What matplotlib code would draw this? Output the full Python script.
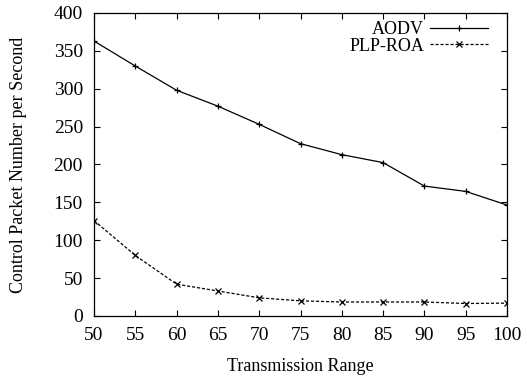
import matplotlib
matplotlib.use("Agg")
import matplotlib.pyplot as plt

plt.rcParams['font.family'] = ['Liberation Serif', 'DejaVu Serif']

ranges = [50, 55, 60, 65, 70, 75, 80, 85, 90, 95, 100]
aodv = [363, 330, 298, 277, 253, 227.5, 213, 202.5, 171.5, 164.5, 146.5]
plp_roa = [126, 80, 42, 33, 24, 20, 18.5, 18.5, 18.5, 16.5, 17]
xticks = [50, 55, 60, 65, 70, 75, 80, 85, 90, 95, 100]
yticks = [0, 50, 100, 150, 200, 250, 300, 350, 400]

fig = plt.figure(figsize=(5.27, 3.78), dpi=100)
ax = fig.add_axes([94/527, 1-316/378, (507-94)/527, (316-13)/378])

ax.plot(ranges, aodv, color='black', linewidth=0.9, marker='+', markersize=5,
        markeredgewidth=0.9, label='AODV')
ax.plot(ranges, plp_roa, color='black', linewidth=0.9, linestyle=(0, (2.5, 1.5)),
        marker='x', markersize=4, markeredgewidth=0.9, label='PLP-ROA')

ax.set_xlim(50, 100)
ax.set_ylim(0, 400)
ax.set_xticks(xticks)
ax.set_yticks(yticks)
ax.tick_params(direction='in', top=True, right=True, labelsize=14, length=4, width=0.8, pad=8)
for s in ax.spines.values():
    s.set_linewidth(0.9)

ax.set_xlabel('Transmission Range', fontsize=13, labelpad=10)
ax.set_ylabel('Control Packet Number per Second', fontsize=13, labelpad=19)

leg = ax.legend(loc='upper right', bbox_to_anchor=(0.954, 0.972), frameon=False,
                markerfirst=False, fontsize=13, handlelength=3.2, borderpad=0,
                borderaxespad=0, labelspacing=-0.05, handletextpad=0.35)

fig.savefig('out.png', dpi=100)
